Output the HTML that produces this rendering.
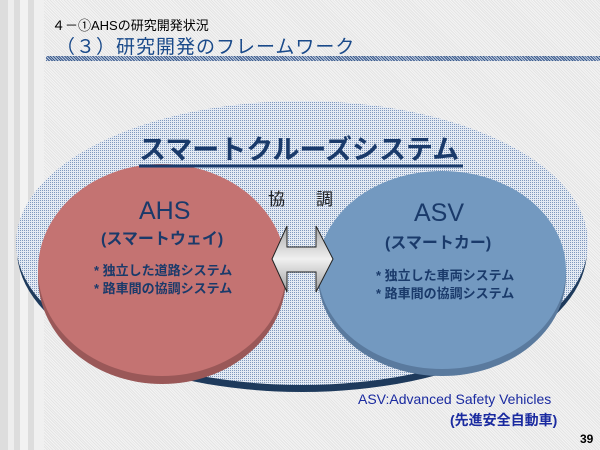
<!DOCTYPE html>
<html><head><meta charset="utf-8"><style>
body{margin:0;width:600px;height:450px;overflow:hidden;background:#fff;font-family:"Liberation Sans","Noto Sans CJK JP",sans-serif;}
#bg{position:absolute;left:0;top:0;width:600px;height:450px;background:repeating-linear-gradient(45deg,#f4f4f4 0 1px,#e4e4e4 1px 2px);}
.t{position:absolute;white-space:nowrap;}
</style></head><body>
<div id="bg"></div>
<div style="position:absolute;left:0;top:0;width:44px;height:450px;background:linear-gradient(90deg,#ddd 0 8px,#eee 8px 14px,#ddd 14px 20px,#f2f2f2 20px 28px,#ddd 28px 34px,#f0f0f0 34px 44px)"></div>
<div style="position:absolute;left:46px;top:56px;width:554px;height:5px;background:repeating-linear-gradient(45deg,#3a5a8a 0 1px,#c0cce0 1px 2px)"></div>
<div class="t" style="left:52px;top:15px;font-size:13px;color:#000">４－①AHSの研究開発状況</div>
<div class="t" style="left:56px;top:32px;font-size:19px;color:#1a4a8a;letter-spacing:1px">（３）研究開発のフレームワーク</div>
<svg width="600" height="450" style="position:absolute;left:0;top:0">
<defs>
<pattern id="dot" width="2" height="2" patternUnits="userSpaceOnUse"><rect width="2" height="2" fill="#e4eaf3"/><rect width="1" height="1" fill="#7f98bd"/></pattern>
<linearGradient id="ag" x1="0" y1="0" x2="0" y2="1"><stop offset="0" stop-color="#a8a8a8"/><stop offset="0.5" stop-color="#f0f0f0"/><stop offset="1" stop-color="#a0a0a0"/></linearGradient>
</defs>
<ellipse cx="302" cy="250" rx="285" ry="142" fill="#1e3a5c"/>
<ellipse cx="302" cy="243" rx="286" ry="142" fill="url(#dot)"/>
<ellipse cx="162" cy="277" rx="124" ry="107" fill="#9a5858"/>
<ellipse cx="162" cy="270" rx="124" ry="106" fill="#c47372"/>
<ellipse cx="442" cy="276" rx="124" ry="100" fill="#5a7a9e"/>
<ellipse cx="442" cy="270" rx="124" ry="99" fill="#7399c0"/>
<polygon points="272,259 287,226 287,247 316,247 316,226 333,259 316,292 316,272 287,272 287,292" fill="url(#ag)" stroke="#222" stroke-width="1"/>
<line x1="139" y1="166" x2="463" y2="166" stroke="#1a3a6a" stroke-width="3"/>
</svg>
<div class="t" style="left:139px;top:128px;font-size:27px;font-weight:bold;color:#1a3a6a;letter-spacing:0px">スマートクルーズシステム</div>
<div class="t" style="left:268px;top:185px;font-size:17px;color:#222">協</div>
<div class="t" style="left:316px;top:185px;font-size:17px;color:#222">調</div>
<div class="t" style="left:139px;top:197px;font-size:25px;color:#1a3a6a">AHS</div>
<div class="t" style="left:101px;top:225px;font-size:16px;font-weight:bold;color:#1a3a6a">(スマートウェイ)</div>
<div class="t" style="left:94px;top:262px;font-size:13px;font-weight:bold;color:#1a3a6a;line-height:18px">* 独立した道路システム<br>* 路車間の協調システム</div>
<div class="t" style="left:414px;top:199px;font-size:25px;color:#1a3a6a">ASV</div>
<div class="t" style="left:385px;top:229px;font-size:16px;font-weight:bold;color:#1a3a6a">(スマートカー)</div>
<div class="t" style="left:376px;top:267px;font-size:13px;font-weight:bold;color:#1a3a6a;line-height:18px">* 独立した車両システム<br>* 路車間の協調システム</div>
<div class="t" style="left:358px;top:391px;font-size:14px;color:#1a2aa0">ASV:Advanced Safety Vehicles</div>
<div class="t" style="left:450px;top:410px;font-size:14px;font-weight:bold;color:#1a2aa0">(先進安全自動車)</div>
<div class="t" style="left:580px;top:432px;font-size:12px;font-weight:bold;color:#000">39</div>
</body></html>
